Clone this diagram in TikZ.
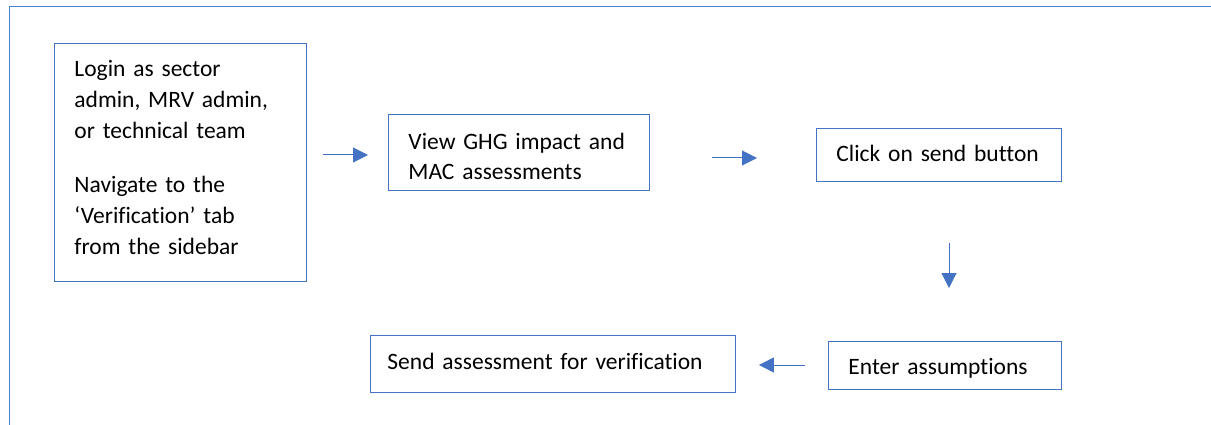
\documentclass[tikz,border=0pt]{standalone}
\usepackage{fontspec}
\setmainfont[Ligatures={NoCommon}]{Carlito}
\usetikzlibrary{arrows.meta}
\definecolor{obl}{HTML}{4472C4}
\definecolor{frm}{HTML}{4A7FD6}
\begin{document}
\begin{tikzpicture}[x=1pt,y=-1pt,
  box/.style={draw=obl,line width=0.9pt,rectangle,anchor=north west,inner xsep=20pt,inner ysep=0pt,align=left,font=\fontsize{23.5}{31}\selectfont},
  arr/.style={draw=obl,line width=1pt,-{Triangle[length=15pt,width=15pt]}}]
\useasboundingbox (0,0) rectangle (1211,425);
\draw[frm,line width=1pt] (1211,7) -- (9.5,7) -- (9.5,425);
\node[box,text width=212pt,minimum width=252pt,minimum height=238pt] (b1) at (54,43)
  {Login as sector\\admin, MRV admin,\\or technical team\\[23pt]Navigate to the\\‘Verification’ tab\\from the sidebar\rule[-11pt]{0pt}{11pt}};
\node[box,text width=221pt,minimum width=261pt,minimum height=76pt,font=\fontsize{23.5}{30}\selectfont] (b2) at (388,114)
  {\rule{0pt}{23.5pt}View GHG impact and\\MAC assessments};
\node[box,text width=205pt,minimum width=245pt,minimum height=53pt] (b3) at (816,128)
  {Click on send button\rule[-4pt]{0pt}{4pt}};
\node[box,inner xsep=17pt,text width=331pt,minimum width=365pt,minimum height=57pt] (b4) at (370,335)
  {Send assessment for verification\rule[-6pt]{0pt}{6pt}};
\node[box,text width=193pt,minimum width=233pt,minimum height=48pt] (b5) at (828,341)
  {\rule{0pt}{21pt}Enter assumptions};
\draw[arr,shorten <=16pt,shorten >=20pt] (b1.east |- 0,155) -- (b2.west |- 0,155);
\draw[arr,shorten <=62pt,shorten >=59pt] (b2.east |- 0,158) -- (b3.west |- 0,158);
\draw[arr,shorten <=61pt,shorten >=53pt] (b3.south -| 949,0) -- (b5.north -| 949,0);
\draw[arr,shorten <=23pt,shorten >=23pt] (b5.west |- 0,365) -- (b4.east |- 0,365);
\end{tikzpicture}
\end{document}
